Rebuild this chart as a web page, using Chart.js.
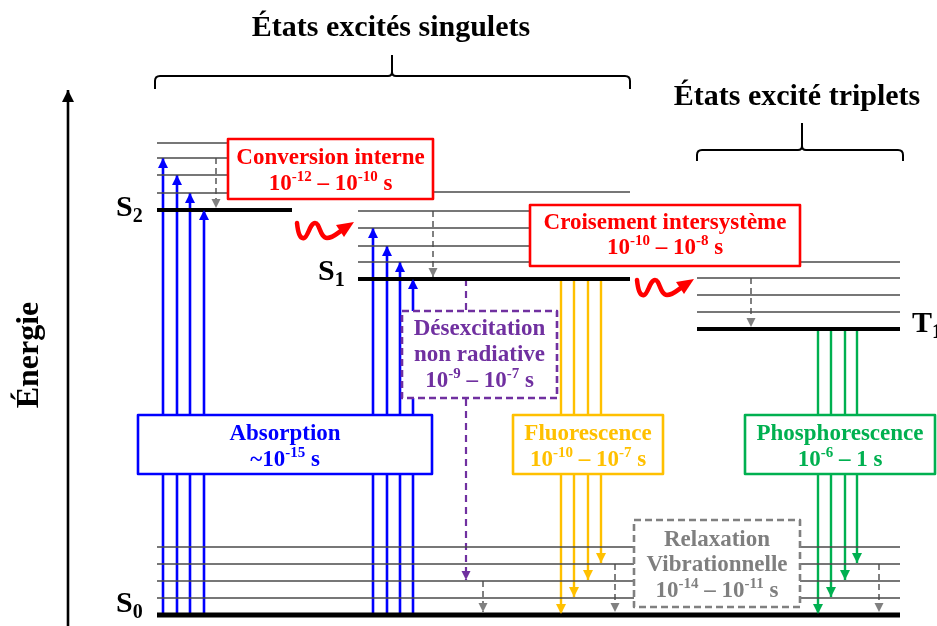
<!DOCTYPE html>
<html><head><meta charset="utf-8">
<script src="https://cdn.jsdelivr.net/npm/chart.js@4/dist/chart.umd.min.js"></script>
<style>html,body{margin:0;padding:0;background:#fff;overflow:hidden}canvas{display:block}</style>
</head><body>
<canvas id="c" width="937" height="626"></canvas>
<script>
// ================= DATA (energies in arbitrary units, S0 = 0) =================
const stateNames = ['S0', 'S1', 'S2', 'T1'];
const stateEnergy = [0, 336, 405, 286];
const vibS0 = [17, 34, 51, 68];
const vibS1 = [17, 33, 51, 68, 87];
const vibS2 = [17, 35, 52, 67];
const vibT1 = [17, 34, 51, 67];
const absorptionToS2 = [52, 35, 17, 0];      // vibrational level reached in S2
const absorptionToS1 = [51, 33, 17, 0];      // vibrational level reached in S1
const fluorescenceTo = [0, 17, 34, 51];      // S1 -> S0 vibrational levels
const phosphorescenceTo = [0, 17, 34, 51];   // T1 -> S0 vibrational levels
const internalConvS2 = [52, 0];
const internalConvS1 = [68, 0];
const internalConvT1 = [51, 0];
const relaxS0From = [34, 51, 51];
const nonRadiativeTo = 34;
const processNames = ['Conversion interne', 'Croisement intersystème', 'Désexcitation|non radiative', 'Absorption', 'Fluorescence', 'Phosphorescence', 'Relaxation|Vibrationnelle'];
const processTimes = ['10^{-12} – 10^{-10} s', '10^{-10} – 10^{-8} s', '10^{-9} – 10^{-7} s', '~10^{-15} s', '10^{-10} – 10^{-7} s', '10^{-6} – 1 s', '10^{-14} – 10^{-11} s'];
const groupTitles = ['États excités singulets', 'États excité triplets'];
const axisTitle = 'Énergie';

// ================= LAYOUT (positions / styles) =================
const Y0 = 615;                       // picture row of S0
const E = py => Y0 - py;              // picture row -> energy units
const L = {
  S0: [157, 900], S1: [358, 630], S2: [157, 292], S2thin: [157, 300], T1: [697, 900],
  absS2X: [163, 177, 190, 204], absS1X: [373, 387, 400, 413],
  fluoX: [561, 574, 588, 601], phosX: [818, 831, 845, 857],
  icX: [216, 433, 751], relaxX: [483, 615, 879], nonRadX: 466, axisX: 68
};
const COL = {
  red: '#FF0000', blue: '#0000FF', yellow: '#FFC000', green: '#00B050',
  purple: '#7030A0', gray: '#808080', grayText: '#7F7F7F', black: '#000000', thin: '#4a4a4a'
};
const boxes = [
  {i: 0, x: [228, 433], y: [139, 199], c: COL.red, t: COL.red, rows: [158, 184]},
  {i: 1, x: [530, 800], y: [205, 266], c: COL.red, t: COL.red, rows: [223, 248]},
  {i: 2, x: [402, 557], y: [311, 398], c: COL.purple, t: COL.purple, dash: true, rows: [329, 355, 381]},
  {i: 3, x: [138, 432], y: [415, 474], c: COL.blue, t: COL.blue, rows: [434, 460]},
  {i: 4, x: [513, 663], y: [415, 474], c: COL.yellow, t: COL.yellow, rows: [434, 460]},
  {i: 5, x: [745, 935], y: [415, 474], c: COL.green, t: COL.green, rows: [434, 460]},
  {i: 6, x: [634, 800], y: [520, 607], c: COL.gray, t: COL.grayText, dash: true, rows: [540, 565, 591]}
];
const FONT = '"Liberation Serif", "DejaVu Serif", serif';

// ================= DATASETS =================
const datasets = [];
function seg(x0, e0, x1, e1, color, width, extra) {
  datasets.push(Object.assign({
    data: [{x: x0, y: e0}, {x: x1, y: e1}], borderColor: color, backgroundColor: color,
    borderWidth: width, showLine: true, pointRadius: 0, pointHoverRadius: 0, fill: false, tension: 0
  }, extra || {}));
}
const eOf = name => stateEnergy[stateNames.indexOf(name)];
// vibrational sublevels
vibS0.forEach(v => seg(L.S0[0], eOf('S0') + v, L.S0[1], eOf('S0') + v, COL.thin, 1.3));
vibS1.forEach(v => seg(L.S1[0], eOf('S1') + v, L.S1[1], eOf('S1') + v, COL.thin, 1.3));
vibS2.forEach(v => seg(L.S2thin[0], eOf('S2') + v, L.S2thin[1], eOf('S2') + v, COL.thin, 1.3));
vibT1.forEach(v => seg(L.T1[0], eOf('T1') + v, L.T1[1], eOf('T1') + v, COL.thin, 1.3));
// electronic levels
seg(L.S0[0], eOf('S0'), L.S0[1], eOf('S0'), COL.black, 5);
seg(L.S1[0], eOf('S1'), L.S1[1], eOf('S1'), COL.black, 4);
seg(L.S2[0], eOf('S2'), L.S2[1], eOf('S2'), COL.black, 4);
seg(L.T1[0], eOf('T1'), L.T1[1], eOf('T1'), COL.black, 4);
// absorption
absorptionToS2.forEach((v, k) => seg(L.absS2X[k], eOf('S0'), L.absS2X[k], eOf('S2') + v, COL.blue, 2.6, {arrow: true, head: 10}));
absorptionToS1.forEach((v, k) => seg(L.absS1X[k], eOf('S0'), L.absS1X[k], eOf('S1') + v, COL.blue, 2.6, {arrow: true, head: 10}));
// fluorescence / phosphorescence
fluorescenceTo.forEach((v, k) => seg(L.fluoX[k], eOf('S1'), L.fluoX[k], eOf('S0') + v + 1, COL.yellow, 2.4, {arrow: true, head: 10}));
phosphorescenceTo.forEach((v, k) => seg(L.phosX[k], eOf('T1'), L.phosX[k], eOf('S0') + v + 1, COL.green, 2.4, {arrow: true, head: 10}));
// internal conversion / vibrational relaxation (dashed gray)
const dashed = {arrow: true, borderDash: [6, 4]};
seg(L.icX[0], eOf('S2') + internalConvS2[0], L.icX[0], eOf('S2') + internalConvS2[1] + 2, COL.gray, 2, dashed);
seg(L.icX[1], eOf('S1') + internalConvS1[0], L.icX[1], eOf('S1') + internalConvS1[1] + 2, COL.gray, 2, dashed);
seg(L.icX[2], eOf('T1') + internalConvT1[0], L.icX[2], eOf('T1') + internalConvT1[1] + 2, COL.gray, 2, dashed);
relaxS0From.forEach((v, k) => seg(L.relaxX[k], eOf('S0') + v, L.relaxX[k], eOf('S0') + 3, COL.gray, 2, dashed));
// non radiative
seg(L.nonRadX, eOf('S1'), L.nonRadX, eOf('S0') + nonRadiativeTo + 1, COL.purple, 2.2, {arrow: true, borderDash: [7, 5]});
// energy axis
seg(L.axisX, E(626), L.axisX, E(90), COL.black, 2.6, {arrow: true, head: 12});

// ================= DRAWING HELPERS =================
function parseRich(str) {
  const out = []; const re = /([\^_])\{([^}]*)\}/g; let last = 0, m;
  while ((m = re.exec(str))) {
    if (m.index > last) out.push({t: str.slice(last, m.index)});
    out.push({t: m[2], sup: m[1] === '^', sub: m[1] === '_'});
    last = re.lastIndex;
  }
  if (last < str.length) out.push({t: str.slice(last)});
  return out;
}
function drawRich(ctx, str, cx, cy, size, color, align, ratio) {
  const segs = parseRich(str);
  const small = Math.round(size * (ratio || 0.64));
  let w = 0;
  segs.forEach(s => {
    ctx.font = 'bold ' + ((s.sup || s.sub) ? small : size) + 'px ' + FONT;
    s.w = ctx.measureText(s.t).width; w += s.w;
  });
  let x = align === 'left' ? cx : cx - w / 2;
  ctx.fillStyle = color; ctx.textBaseline = 'middle'; ctx.textAlign = 'left';
  segs.forEach(s => {
    ctx.font = 'bold ' + ((s.sup || s.sub) ? small : size) + 'px ' + FONT;
    let dy = 0;
    if (s.sup) dy = -size * 0.3;
    if (s.sub) dy = size * 0.28;
    ctx.fillText(s.t, x, cy + dy);
    x += s.w;
  });
}

const diagramPlugin = {
  id: 'jablonski',
  beforeDraw(chart) {
    const ctx = chart.ctx; ctx.save(); ctx.fillStyle = '#fff';
    ctx.fillRect(0, 0, chart.width, chart.height); ctx.restore();
  },
  afterDatasetsDraw(chart) {
    const ctx = chart.ctx;
    const xs = chart.scales.x, ys = chart.scales.y;
    const px = v => xs.getPixelForValue(v);
    const py = r => ys.getPixelForValue(E(r)); // picture row via energy scale
    ctx.save();
    // arrowheads
    chart.data.datasets.forEach((ds, i) => {
      if (!ds.arrow) return;
      const pts = chart.getDatasetMeta(i).data;
      const a = pts[pts.length - 2], b = pts[pts.length - 1];
      const ang = Math.atan2(b.y - a.y, b.x - a.x);
      const len = ds.head || 9, half = (ds.head || 9) * 0.5;
      ctx.fillStyle = ds.borderColor;
      ctx.beginPath();
      ctx.moveTo(b.x, b.y);
      ctx.lineTo(b.x - len * Math.cos(ang) + half * Math.sin(ang), b.y - len * Math.sin(ang) - half * Math.cos(ang));
      ctx.lineTo(b.x - len * Math.cos(ang) - half * Math.sin(ang), b.y - len * Math.sin(ang) + half * Math.cos(ang));
      ctx.closePath(); ctx.fill();
    });
    // braces
    function brace(x0, x1, xm, yH, yEnd, yTip) {
      ctx.strokeStyle = '#000'; ctx.lineWidth = 2; ctx.lineJoin = 'round';
      ctx.beginPath();
      ctx.moveTo(px(x0), py(yEnd));
      ctx.lineTo(px(x0), py(yH) + 5);
      ctx.quadraticCurveTo(px(x0), py(yH), px(x0) + 5, py(yH));
      ctx.lineTo(px(xm) - 4, py(yH));
      ctx.quadraticCurveTo(px(xm), py(yH), px(xm), py(yH) - 4);
      ctx.lineTo(px(xm), py(yTip));
      ctx.moveTo(px(xm), py(yH) - 4);
      ctx.quadraticCurveTo(px(xm), py(yH), px(xm) + 4, py(yH));
      ctx.lineTo(px(x1) - 5, py(yH));
      ctx.quadraticCurveTo(px(x1), py(yH), px(x1), py(yH) + 5);
      ctx.lineTo(px(x1), py(yEnd));
      ctx.stroke();
    }
    brace(155, 630, 392, 76, 89, 55);
    brace(697, 903, 802, 150, 161, 123);
    // wavy red arrows
    function wave(ax, ay) {
      const X = v => px(ax + v), Y = v => py(ay + v);
      ctx.strokeStyle = COL.red; ctx.fillStyle = COL.red; ctx.lineWidth = 4.5; ctx.lineCap = 'round'; ctx.lineJoin = 'round';
      ctx.beginPath();
      ctx.moveTo(X(0), Y(0));
      ctx.bezierCurveTo(X(1), Y(10), X(3), Y(16), X(7), Y(15));
      ctx.bezierCurveTo(X(11), Y(14), X(13), Y(0), X(18), Y(0));
      ctx.bezierCurveTo(X(23), Y(0), X(23), Y(15), X(30), Y(15));
      ctx.bezierCurveTo(X(37), Y(15), X(41), Y(9), X(47), Y(6));
      ctx.stroke();
      ctx.beginPath();
      ctx.moveTo(X(39), Y(2)); ctx.lineTo(X(57), Y(-1)); ctx.lineTo(X(47), Y(14)); ctx.closePath(); ctx.fill();
    }
    wave(297, 223);
    wave(637, 280);
    // boxes
    boxes.forEach(b => {
      const x0 = px(b.x[0]), x1 = px(b.x[1]), y0 = py(b.y[0]), y1 = py(b.y[1]);
      ctx.fillStyle = '#fff'; ctx.fillRect(x0, y0, x1 - x0, y1 - y0);
      ctx.strokeStyle = b.c; ctx.lineWidth = 2.6; ctx.lineCap = 'butt';
      ctx.setLineDash(b.dash ? [7, 4] : []);
      ctx.strokeRect(x0, y0, x1 - x0, y1 - y0);
      ctx.setLineDash([]);
      const lines = processNames[b.i].split('|').concat([processTimes[b.i]]);
      const cx = (x0 + x1) / 2;
      lines.forEach((s, k) => drawRich(ctx, s, cx, py(b.rows[k]), 23, b.t));
    });
    // state labels
    drawRich(ctx, 'S_{2}', px(116), py(208), 30, '#000', 'left', 0.68);
    drawRich(ctx, 'S_{1}', px(318), py(272), 30, '#000', 'left', 0.68);
    drawRich(ctx, 'S_{0}', px(116), py(604), 30, '#000', 'left', 0.68);
    drawRich(ctx, 'T_{1}', px(912), py(324), 30, '#000', 'left', 0.68);
    // group titles
    drawRich(ctx, groupTitles[0], px(391), py(28), 30, '#000');
    drawRich(ctx, groupTitles[1], px(797), py(97), 30, '#000');
    // axis title
    ctx.save();
    ctx.translate(px(30), py(355)); ctx.rotate(-Math.PI / 2);
    drawRich(ctx, axisTitle, 0, 0, 32, '#000');
    ctx.restore();
    ctx.restore();
  }
};

new Chart(document.getElementById('c'), {
  type: 'scatter',
  data: {datasets},
  options: {
    responsive: false, animation: false, events: [],
    layout: {padding: 0},
    plugins: {legend: {display: false}, tooltip: {enabled: false}, title: {display: false}},
    scales: {
      x: {type: 'linear', min: 0, max: 937, display: false},
      y: {type: 'linear', min: E(626), max: E(0), display: false}
    }
  },
  plugins: [diagramPlugin]
});
</script>
</body></html>
